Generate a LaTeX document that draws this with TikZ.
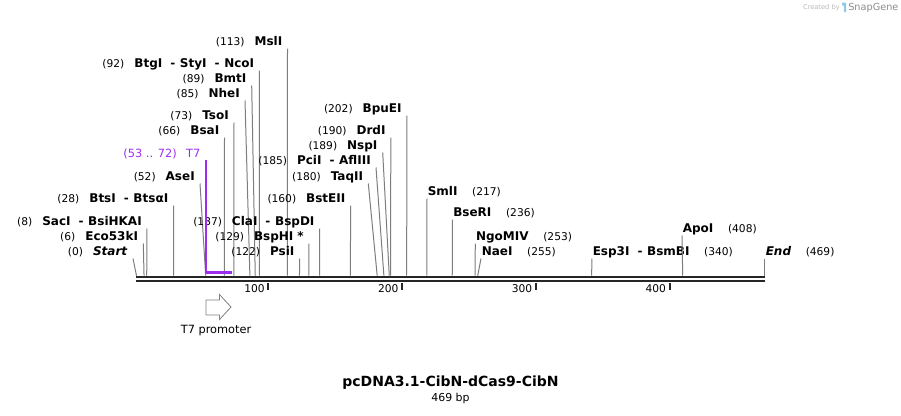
\documentclass[tikz,border=0pt]{standalone}
\usepackage{fontspec}
\setmainfont{DejaVu Sans}
\usepackage{tikz}
\usetikzlibrary{calc,positioning}

\definecolor{sitegray}{RGB}{125,125,125}
\definecolor{t7purple}{RGB}{155,45,240}
\definecolor{sgblue}{RGB}{95,175,230}

\newcommand{\enz}[1]{{\fontsize{9}{10}\selectfont\bfseries #1}}
\newcommand{\cutp}[1]{{\fontsize{8}{10}\selectfont(#1)}}
\newcommand{\sep}{\hspace{6pt}-\hspace{3.5pt}}
\newcommand{\bpx}[1]{136+1.34*#1}

\tikzset{
	seqmap/.style={x=0.75pt, y=-0.75pt},
	site/.style={draw=sitegray, line width=0.75pt},
	lbl left/.style={anchor=east, inner sep=0pt},
	lbl right/.style={anchor=west, inner sep=0pt},
	backbone/.style={draw=black!85, line width=1.6pt},
	tick/.style={draw=black!85, line width=1.5pt},
	tick lbl/.style={anchor=east, inner sep=0pt, font=\fontsize{8}{9}\selectfont},
	feat/.style={draw=t7purple, line width=0.9pt},
	promoter/.style={draw=gray, fill=white, line width=0.6pt, line join=miter}
}

\begin{document}
\begin{tikzpicture}[seqmap]
  \useasboundingbox (0,0) rectangle (901,415);
  % backbone and ruler
  \coordinate (bbA) at (136,276.7);
  \coordinate (bbB) at (765,276.7);
  \draw[backbone] (bbA) -- (bbB);
  \draw[backbone] ($(bbA)+(0,4.5)$) -- ($(bbB)+(0,4.5)$);
  \foreach \n in {100,200,300,400}{
    \coordinate (k\n) at ({134.5+1.3375*\n},282.5);
    \draw[tick] (k\n) -- ++(0,7.5);
    \node[tick lbl] (n\n) at ($(k\n)+(-3.3,6.2)$) {\n};
  }
  % cut sites, labels on the left
  \foreach \s/\tx/\ly/\name in {
      6/143.3/237/Eco53kI, 8/147/222/SacI\sep BsiHKAI, 28/173.5/199/BtsI\sep BtsαI,
      52/200/177/AseI, 66/224.5/131/BsaI, 73/234/116/TsoI, 85/245/94/NheI,
      89/251.7/79/BmtI, 92/259.4/64/BtgI\sep StyI\sep NcoI, 113/287.5/42/MslI,
      122/299.6/252/PsiI, 129/309/237/BspHI\hspace{3pt}*, 137/319.7/222/ClaI\sep BspDI,
      160/350.6/199/BstEII, 180/368.3/177/TaqII, 185/376/161/PciI\sep AflIII,
      189/382.7/146/NspI, 190/390.8/131/DrdI, 202/406.9/109/BpuEI}{
    \coordinate (s\s) at ({\bpx{\s}},275.7);
    \coordinate (t\s) at (\tx,\ly+6.5);
    \node[lbl left] (l\s) at (\tx-5,\ly) {\cutp{\s}\hspace{7.5pt}\enz{\name}};
    \draw[site] (t\s) -- (s\s);
  }
  % cut sites, labels on the right
  \foreach \s/\tx/\ly/\name in {
      217/427/192/SmlI, 236/452.5/213/BseRI, 253/475.3/237/NgoMIV,
      255/481/252/NaeI, 340/592/252/Esp3I\sep BsmBI, 408/682/229/ApoI}{
    \coordinate (s\s) at ({\bpx{\s}},275.7);
    \coordinate (t\s) at (\tx,\ly+6.5);
    \node[lbl right] (l\s) at (\tx+0.5,\ly) {\enz{\name}\hspace{11pt}\cutp{\s}};
    \draw[site] (t\s) -- (s\s);
  }
  % ends of the sequence
  \coordinate (s0) at (136.5,275.7);
  \coordinate (t0) at (133,258.5);
  \node[lbl left] (l0) at (127.5,252) {\cutp{0}\hspace{7.5pt}\enz{\itshape Start}};
  \draw[site] (t0) -- (s0);
  \coordinate (s469) at (764.5,275.7);
  \coordinate (t469) at (764.5,258.5);
  \node[lbl right] (l469) at (765.5,252) {\enz{\itshape End}\hspace{11pt}\cutp{469}};
  \draw[site] (t469) -- (s469);
  % T7 feature
  \coordinate (f53) at (206,272.5);
  \coordinate (f72) at ({\bpx{72}},272.5);
  \coordinate (ft) at (206,160);
  \node[lbl left, text=t7purple, font=\fontsize{8.5}{10}\selectfont] (t7) at (200.5,153.5)
    {(53 .. 72)\hspace{7pt}T7};
  \draw[feat] (ft) -- (f53);
  \draw[t7purple, line width=1.6pt] (f53) -- (f72);
  % promoter arrow
  \draw[promoter] (206,300) -- (219.5,300) -- (219.5,294.5) -- (231,307)
    -- (219.5,319.5) -- (219.5,315) -- (206,315) -- cycle;
  \coordinate (pr) at (216,319.5);
  \node[below=4pt of pr, inner sep=0pt, font=\fontsize{8.5}{10}\selectfont] (prl) {T7 promoter};
  % title
  \node[font=\fontsize{10.5}{12}\selectfont\bfseries] (title) at (450.5,383) {pcDNA3.1-CibN-dCas9-CibN};
  \node[font=\fontsize{8.2}{10}\selectfont] (len) at (450.5,398.5) {469 bp};
  % watermark
  \node[anchor=east, inner sep=0pt, text=black!28, font=\fontsize{5}{6}\selectfont] (cb) at (840,7.5) {Created by};
  \fill[sgblue!70] (842,2.5) -- (846,2.5) -- (846,12) -- (844,12) -- (844,6) -- (842,5) -- cycle;
  \node[anchor=west, inner sep=0pt, text=black!45, font=\fontsize{7.3}{8}\selectfont] (sg) at (848,7.5) {SnapGene};
\end{tikzpicture}
\end{document}
